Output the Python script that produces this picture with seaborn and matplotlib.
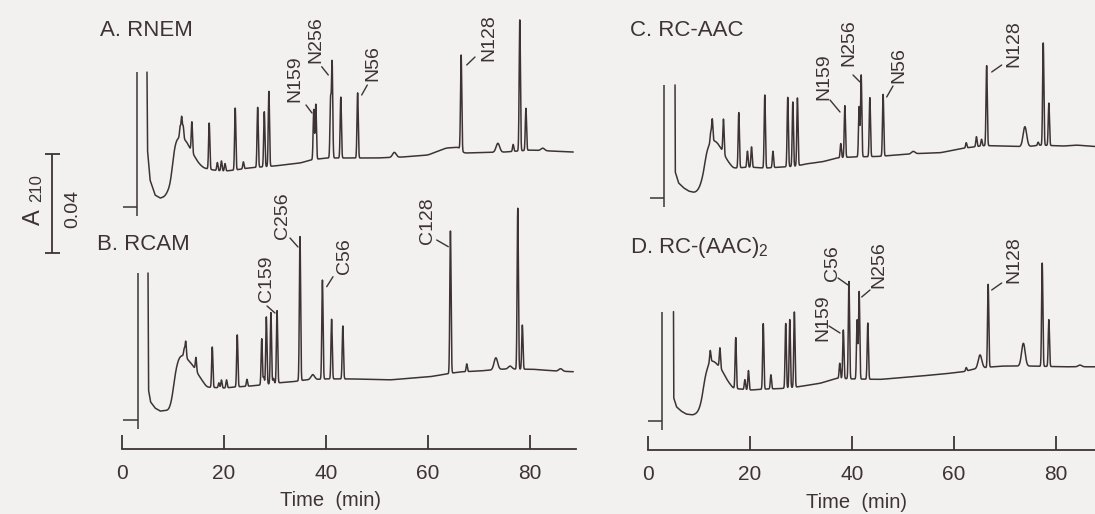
import numpy as np
import pandas as pd
import matplotlib
matplotlib.use("Agg")
import matplotlib.pyplot as plt
import seaborn as sns

# ---- data (time in min, signal in mAU at 210 nm) ----
# A. RNEM
a_base_time = [4.9, 5.0, 5.5, 6.5, 7.5, 8.5, 9.5, 10.3, 11.0, 12.5, 13.5, 15, 16, 18, 20, 22, 25, 30,
               35, 37, 40, 50, 55, 60, 63.5, 66, 67, 75, 80, 88.5]
a_base_level = [54.5, 23.0, 10.9, 4.8, 3.6, 4.4, 8.9, 25.0, 28.3, 27.1, 23.0, 17.8, 15.8, 14.9, 14.5, 14.9,
                15.8, 16.6, 17.8, 19.0, 19.8, 19.8, 20.2, 21.0, 23.8, 24.2, 21.8, 22.2, 23.0, 22.2]
a_peak_time = [11.4, 11.7, 12.0, 13.7, 17.1, 18.7, 19.5, 20.2, 22.2, 23.8, 26.6, 27.9, 28.8, 37.6, 38.0,
               40.9, 41.2, 42.9, 46.2, 66.5, 76.7, 78.0, 79.2]
a_peak_height = [4.5, 8.5, 5.0, 12.1, 18.6, 3.2, 4.0, 3.0, 25.0, 2.8, 24.2, 22.2, 30.3, 20.2, 22.2,
                 23.4, 38.4, 24.6, 26.3, 38.4, 2.8, 52.9, 17.0]
a_bump_time = [53.4, 73.7, 82.5]
a_bump_height = [2.0, 3.6, 1.0]

# B. RCAM
b_base_time = [5.1, 5.2, 5.6, 6.5, 7.5, 9.2, 9.8, 10.5, 11.2, 12, 13, 14, 15, 16.6, 20, 22, 25, 27, 30,
               33.6, 36, 40, 45, 52.5, 60.4, 63.7, 66, 70, 75, 80.6, 85, 88.5]
b_base_level = [59.4, 12.1, 7.3, 4.8, 3.6, 4.0, 8.1, 20.2, 25.5, 26.3, 24.2, 21.8, 18.2, 13.3, 12.9, 13.3,
                13.7, 14.1, 14.9, 15.5, 16.2, 16.6, 16.6, 16.2, 17.5, 18.6, 19.4, 19.8, 20.6, 20.5, 19.8, 19.5]
b_peak_time = [12.2, 12.5, 14.5, 17.7, 19.0, 19.5, 20.5, 22.6, 24.5, 27.4, 27.8, 28.3, 29.2, 29.7, 30.4,
               34.9, 39.3, 41.1, 43.3, 64.4, 67.6, 77.6, 78.5]
b_peak_height = [3.0, 6.5, 5.3, 16.3, 2.0, 3.2, 3.2, 21.0, 2.8, 18.6, 3.0, 27.2, 28.7, 2.0, 29.2,
                 58.2, 40.0, 24.1, 21.4, 57.5, 3.1, 65.0, 17.8]
b_bump_time = [37.4, 73.3, 76.1, 86.0]
b_bump_height = [2.0, 4.8, 1.2, 1.0]

# C. RC-AAC
c_base_time = [5.3, 5.35, 6, 7, 8, 9.2, 10, 10.8, 11.5, 12.5, 13.5, 14.5, 15.5, 16.7, 20, 23, 26, 29, 31,
               34.3, 37, 40, 45, 48.8, 53, 57.3, 60, 61.8, 64, 66, 70, 74, 77, 81.4, 84, 88.5]
c_base_level = [45.8, 10.6, 6.2, 4.2, 2.9, 2.3, 3.8, 9.0, 19.5, 23.6, 22.8, 19.5, 15.5, 12.2, 12.6, 12.2,
                12.6, 13.0, 13.9, 14.8, 16.3, 16.7, 16.9, 17.5, 18.1, 18.4, 19.5, 20.2, 20.8, 21.3, 21.1,
                20.8, 21.5, 21.1, 21.5, 20.8]
c_peak_time = [12.3, 12.6, 14.8, 17.8, 19.5, 20.3, 22.9, 24.5, 27.4, 28.4, 29.3, 37.8, 38.6, 41.4, 41.8,
               43.5, 46.1, 62.4, 64.4, 65.4, 66.4, 76.5, 77.5, 78.6]
c_peak_height = [4.0, 8.8, 13.7, 22.3, 6.5, 8.2, 29.5, 6.6, 28.0, 26.0, 27.4, 5.7, 20.9, 20.2, 33.0,
                 23.8, 24.9, 2.1, 4.0, 2.7, 32.3, 1.3, 41.3, 17.1]
c_bump_time = [52.0, 73.9]
c_bump_height = [1.0, 8.1]

# D. RC-(AAC)2
d_base_time = [5.0, 5.05, 5.6, 6.5, 7.5, 8.9, 9.8, 10.5, 11.2, 12.2, 13.2, 14.5, 15.5, 16.7, 20, 23, 26, 29,
               33.7, 37, 40, 45.5, 52, 57.9, 61.8, 64, 67, 69.6, 75, 81.4, 88.5]
d_base_level = [44.2, 9.3, 5.7, 4.0, 2.8, 2.4, 3.6, 7.7, 18.6, 24.6, 23.8, 20.6, 16.6, 13.2, 12.5, 12.9,
                13.1, 13.7, 15.2, 17.3, 17.0, 16.8, 17.9, 19.0, 19.9, 21.0, 21.8, 22.2, 22.2, 21.9, 21.9]
d_peak_time = [12.2, 14.1, 17.2, 19.0, 19.7, 22.6, 24.1, 27.0, 27.8, 28.7, 37.6, 38.3, 39.4, 41.0, 41.4,
               43.1, 62.4, 66.7, 77.3, 78.6]
d_peak_height = [4.7, 8.0, 20.6, 4.0, 7.8, 26.5, 5.7, 26.1, 27.5, 30.4, 6.1, 19.6, 39.3, 23.8, 35.3,
                 22.7, 1.4, 33.5, 41.7, 18.9]
d_bump_time = [65.1, 73.6, 84.7]
d_bump_height = [5.4, 9.2, 0.7]

# solvent front: pen start, off-scale up, top of the cut-off lines
solvent_start = {"A": 0.2, "B": 0.2, "C": 0.4, "D": 0.0}
solvent_up = {"A": 2.9, "B": 3.1, "C": 3.2, "D": 2.7}
solvent_top = {"A": 54.5, "B": 59.4, "C": 45.8, "D": 44.2}

panel_titles = {"A": "A. RNEM", "B": "B. RCAM", "C": "C. RC-AAC", "D": r"D. RC-(AAC)$_\mathregular{2}$"}
peak_labels = {
    "A": ["N159", "N256", "N56", "N128"],
    "B": ["C159", "C256", "C56", "C128"],
    "C": ["N159", "N256", "N56", "N128"],
    "D": ["C56", "N159", "N256", "N128"],
}
time_ticks = [0, 20, 40, 60, 80]

traces = {
    "A": (a_base_time, a_base_level, a_peak_time, a_peak_height, a_bump_time, a_bump_height),
    "B": (b_base_time, b_base_level, b_peak_time, b_peak_height, b_bump_time, b_bump_height),
    "C": (c_base_time, c_base_level, c_peak_time, c_peak_height, c_bump_time, c_bump_height),
    "D": (d_base_time, d_base_level, d_peak_time, d_peak_height, d_bump_time, d_bump_height),
}


def render_trace(base_t, base_v, pk_t, pk_h, bp_t, bp_h):
    dt = 0.02
    t = np.arange(base_t[0], base_t[-1], dt)
    y = np.interp(t, base_t, base_v)
    # round off the knot corners of the baseline, but leave the solvent drop and trough as read
    k = np.exp(-0.5 * (np.arange(-40, 41) * dt / 0.3) ** 2)
    k /= k.sum()
    smooth = np.convolve(np.pad(y, 40, mode="edge"), k, mode="same")[40:-40]
    y = np.where(t > base_t[0] + 3.3, smooth, y)
    for c, h in zip(pk_t, pk_h):
        y = y + h * np.exp(-0.5 * ((t - c) / 0.12) ** 2)
    for c, h in zip(bp_t, bp_h):
        y = y + h * np.exp(-0.5 * ((t - c) / 0.35) ** 2)
    return t, y


# ---- layout (pixels of the 1095x514 page) ----
W, H = 1095, 514
MAU_PER_PX = 0.404
PX_PER_MIN = 5.1
ink = "#3d3336"
paper = "#f3f1ef"

sns.set_style("white")
plt.rcParams["font.family"] = ["Liberation Sans", "DejaVu Sans"]
plt.rcParams["mathtext.fontset"] = "custom"
plt.rcParams["mathtext.rm"] = "Liberation Sans"
plt.rcParams["text.color"] = ink

fig = plt.figure(figsize=(W / 100, H / 100), dpi=100, facecolor=paper)

columns = {
    "left": dict(x0=122, axis_y=449, traces={"A": 207, "B": 420}),
    "right": dict(x0=648, axis_y=450, traces={"C": 198.3, "D": 421}),
}
axes = {}
for name, col in columns.items():
    ax = fig.add_axes([col["x0"] / W, 1 - col["axis_y"] / H, 89 * PX_PER_MIN / W, col["axis_y"] / H])
    ax.set_facecolor("none")
    ax.set_xlim(0, 89)
    ax.set_ylim(0, col["axis_y"] * MAU_PER_PX)
    rows = []
    for key, level_px in col["traces"].items():
        offset = (col["axis_y"] - level_px) * MAU_PER_PX
        t, y = render_trace(*traces[key])
        rows.append(pd.DataFrame({"time": t, "signal": y + offset, "trace": key}))
        # pen start and the off-scale solvent front
        ax.hlines(offset, solvent_start[key], solvent_up[key], color=ink, lw=1.1)
        ax.vlines(solvent_up[key], offset - 3.5, offset + solvent_top[key], color=ink, lw=1.1)
    df = pd.concat(rows, ignore_index=True)
    sns.lineplot(data=df, x="time", y="signal", units="trace", estimator=None, sort=False,
                 color=ink, linewidth=1.1, ax=ax)
    for s in ["top", "left", "right"]:
        ax.spines[s].set_visible(False)
    ax.spines["bottom"].set_color(ink)
    ax.spines["bottom"].set_linewidth(1.3)
    ax.set_yticks([])
    ax.set_ylabel("")
    ax.set_xticks(time_ticks)
    ax.tick_params(axis="x", bottom=True, direction="in", length=10, width=1.3, pad=11,
                   labelsize=15, colors=ink)
    ax.set_xlabel("Time  (min)", fontsize=14.5, color=ink, va="center")
    ax.xaxis.set_label_coords(209 / (89 * PX_PER_MIN), -52 / col["axis_y"])
    axes[name] = ax


def fxy(x, y):
    return x / W, 1 - y / H


# panel titles
for key, (x, y) in {"A": (100, 31), "B": (97, 244), "C": (630, 31), "D": (630, 247)}.items():
    fig.text(*fxy(x, y), panel_titles[key], fontsize=16, ha="left", va="center", color=ink)

# peak labels (centre of the rotated text) and their leader strokes
label_pos = {
    "A": [(294.5, 78.5), (315.5, 40), (372.5, 63.5), (488.5, 37.5)],
    "B": [(266, 279), (282, 216), (344.5, 256.5), (427.5, 221)],
    "C": [(823.5, 76.5), (849, 42.5), (899, 65), (1014, 43.5)],
    "D": [(832, 263.5), (822.5, 318), (879, 265), (1014, 260)],
}
leaders = {
    "A": [((306, 105), (312, 113)), ((321.7, 66.7), (328.3, 75)), ((367.3, 85), (361.7, 95)),
          ((475, 57), (466.7, 65))],
    "B": [((267, 306), (275, 313)), ((290, 238), (298, 247)), ((333, 276.7), (326.7, 286.7)),
          ((436.7, 240), (448.3, 246.7))],
    "C": [((830, 100), (840, 112)), ((853, 75), (860, 82)), ((893, 86), (886.7, 97)),
          ((1001.7, 65), (991.7, 72))],
    "D": [((838, 278), (848, 285)), ((829, 326), (840, 333)), ((870, 290), (861.7, 297)),
          ((1001.7, 283), (991.7, 290))],
}
for key in peak_labels:
    for txt, (x, y), (p1, p2) in zip(peak_labels[key], label_pos[key], leaders[key]):
        fig.text(*fxy(x, y), txt, fontsize=14, rotation=90, ha="center", va="center", color=ink)
        (x1, y1), (x2, y2) = fxy(*p1), fxy(*p2)
        fig.add_artist(plt.Line2D([x1, x2], [y1, y2], color=ink, lw=1.0))

# absorbance scale bar: 0.04 AU = 40 mAU, drawn in the left panel's units
axl = axes["left"]
bar_x = (52 - 122) / PX_PER_MIN
bar_lo = (449 - 253) * MAU_PER_PX
cap = 7.5 / PX_PER_MIN
axl.vlines(bar_x, bar_lo, bar_lo + 40, color=ink, lw=1.3, clip_on=False)
axl.hlines([bar_lo, bar_lo + 40], bar_x - cap, bar_x + cap, color=ink, lw=1.3, clip_on=False)
fig.text(*fxy(34, 217), "A", fontsize=17, rotation=90, ha="center", va="center", color=ink)
fig.text(*fxy(37, 188.5), "210", fontsize=12, rotation=90, ha="center", va="center", color=ink)
fig.text(*fxy(72.5, 208.5), "0.04", fontsize=14, rotation=90, ha="center", va="center", color=ink)

fig.savefig("out.png", dpi=100, facecolor=paper)
